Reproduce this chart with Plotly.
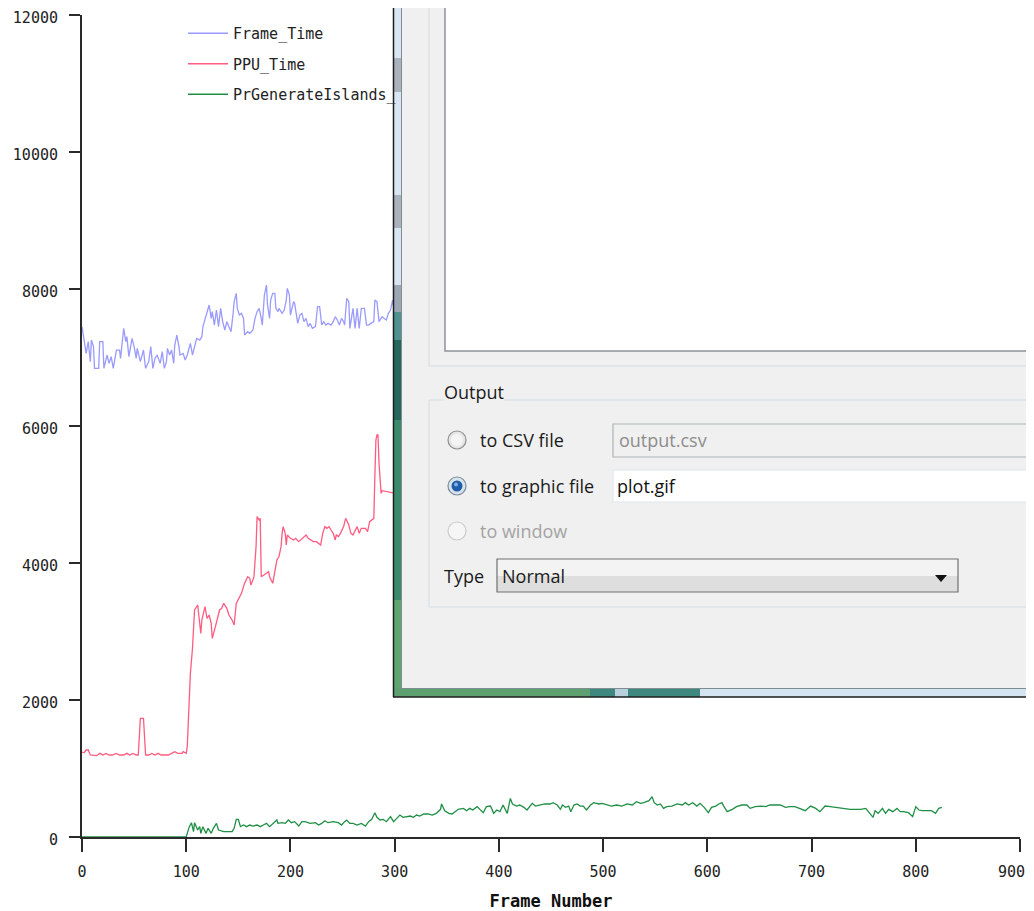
import plotly.graph_objects as go

# ---------------- data ----------------
ft_frames = [0,1,4,6,8,9,11,12,16,17,20,21,24,26,28,30,33,36,37,40,42,43,45,48,50,52,53,56,59,61,
             64,66,68,70,72,75,77,79,81,82,84,86,88,89,91,93,94,97,99,101,104,106,108,110,113,115,116,119,120,122,
             124,125,127,129,131,133,135,137,139,141,143,145,146,148,149,151,153,155,156,159,161,164,166,168,170,172,173,175,177,178,
             180,181,183,185,186,188,189,192,194,196,197,199,200,203,204,207,209,211,213,215,217,219,221,224,226,228,230,232,234,236,
             239,241,243,245,247,249,251,252,254,256,257,260,262,264,266,268,271,273,275,277,280,281,283,285,288,290,292,294,296,298,
             299,302]
ft_values = [7450,7352,7060,7231,6939,7255,7158,6842,6842,7231,7231,6842,7036,6914,7012,6842,7109,7109,6987,7425,
             7231,7304,7012,7279,7158,6987,7133,6939,7109,6842,6939,7158,6842,6987,7036,6914,7085,6842,6939,7133,
             7036,7109,6914,7182,7328,7158,7036,7060,6963,7036,7206,7036,7182,7279,7255,7304,7450,7596,7669,7766,
             7571,7669,7474,7693,7450,7717,7523,7401,7523,7450,7377,7644,7815,7937,7717,7620,7644,7571,7328,7377,
             7352,7401,7571,7669,7717,7571,7474,7912,8058,7766,7571,7839,7937,7937,7717,7669,7717,7644,7693,7839,
             8010,7912,7620,7815,7791,7498,7620,7644,7523,7571,7450,7498,7425,7450,7742,7742,7474,7523,7474,7498,
             7474,7523,7596,7547,7474,7571,7523,7474,7864,7815,7425,7717,7425,7717,7425,7717,7717,7474,7474,7498,
             7523,7839,7815,7523,7596,7571,7547,7644,7693,7839,7742,7800]

ppu_frames = [0,2,4,6,8,11,14,17,20,23,26,29,33,36,40,43,46,49,52,54,
              55,56,59,60,61,64,67,70,73,76,80,83,86,89,92,96,97,100,101,102,
              103,104,106,108,111,112,114,115,117,118,120,122,124,125,128,130,132,134,136,139,
              141,144,146,148,150,153,156,159,161,162,164,165,167,168,170,171,172,174,177,179,
              180,183,185,187,189,191,192,193,195,196,197,200,203,205,208,210,212,215,217,219,
              222,225,227,229,231,233,235,237,239,241,243,244,246,248,251,253,256,258,260,262,
              264,266,268,272,274,276,278,280,281,282,283,284,285,287,288,292,296,299,303]
ppu_values = [1240,1230,1270,1270,1197,1187,1187,1221,1197,1221,1197,1197,1221,1197,1197,1221,1197,1221,1197,1197,
              1465,1732,1732,1465,1197,1197,1221,1197,1221,1197,1197,1197,1221,1246,1221,1221,1246,1221,1318,1659,
              1927,2389,2754,3314,3387,3265,2973,3168,3314,3363,3192,3241,3119,2900,3071,3217,3314,3338,3411,3338,
              3241,3168,3095,3411,3470,3557,3703,3800,3776,3679,3752,3800,4239,4677,4628,4652,3800,3825,3849,3873,
              3800,3703,3873,4044,4093,4239,4433,4531,4433,4263,4409,4360,4336,4360,4312,4336,4360,4409,4360,4336,
              4312,4312,4288,4263,4433,4531,4506,4531,4482,4433,4336,4409,4385,4433,4531,4652,4555,4433,4409,4482,
              4531,4433,4506,4506,4458,4604,4628,4652,5261,5796,5869,5869,5455,5017,5056,5041,5027,5017,5010]

pgi_frames = [0,100,101,103,105,107,108,111,113,114,116,119,121,124,126,129,131,133,136,139,
              144,146,148,150,152,155,158,161,164,168,171,174,177,180,184,187,188,192,195,198,
              201,204,208,211,214,219,224,227,230,233,236,241,246,249,252,254,257,260,264,268,
              272,275,278,281,283,286,289,292,296,299,302,305,308,312,315,318,321,324,328,332,
              336,340,344,345,348,352,355,358,361,366,369,372,375,379,382,385,388,392,395,398,
              401,404,408,411,413,417,420,424,427,432,435,440,444,449,452,456,459,461,464,467,
              469,472,475,478,481,484,488,491,496,499,504,508,513,518,523,528,532,536,539,544,
              547,549,552,555,558,561,566,571,576,579,582,586,590,593,597,601,604,608,611,614,
              616,619,624,628,633,638,641,646,651,656,660,665,670,675,679,684,689,694,699,704,
              708,713,718,723,728,732,737,742,747,752,756,759,761,764,768,771,774,778,782,785,
              788,793,797,800,803,806,811,815,819,822,825]
pgi_values = [0,0,53,151,209,78,209,102,151,53,151,53,126,53,126,199,102,92,78,78,
              78,126,258,258,151,175,151,175,160,175,151,175,199,151,199,248,199,209,199,248,
              209,224,160,224,224,199,209,175,199,238,209,224,209,175,224,248,199,199,175,199,
              160,224,258,355,287,248,258,224,297,224,272,321,287,297,306,287,321,306,336,336,
              321,345,404,482,384,345,336,370,404,418,384,418,394,443,404,355,443,452,345,394,
              370,467,345,564,482,452,467,433,394,491,452,467,482,482,501,467,404,467,433,452,
              370,467,482,452,452,394,467,501,482,491,467,452,467,452,482,467,516,491,501,530,
              589,501,467,482,418,443,452,482,467,501,467,501,452,491,433,355,433,452,482,501,
              443,370,404,443,467,467,418,443,452,443,467,467,467,433,443,443,418,384,452,418,
              370,452,443,433,418,418,404,404,404,418,345,287,384,345,418,345,404,370,418,370,
              370,355,297,443,394,384,384,384,345,418,433]

series_names = ["Frame_Time", "PPU_Time", "PrGenerateIslands_"]
series_colors = ["#9a9aff", "#ff5c80", "#1f8f45"]
x_ticks = [0, 100, 200, 300, 400, 500, 600, 700, 800, 900]
# the last label ("900") sits at the page edge; it is drawn separately so it stays visible
x_ticktext = ["0", "100", "200", "300", "400", "500", "600", "700", "800", ""]
x_last_label = "900"
y_ticks = [0, 2000, 4000, 6000, 8000, 10000, 12000]
y_ticktext = ["0", "2000", "4000", "6000", "8000", "10000", "12000"]

# ---------------- figure ----------------
# the page puts the figure 8px from the top-left corner (default body margin)
OFF = 8
W, H = 1034 - 2 * OFF, 911 - OFF
ML, MT = 82 - OFF, 15 - OFF
MR = OFF + W - 1020
MB = OFF + H - 837
PW = W - ML - MR
PH = H - MT - MB

fig = go.Figure()
for fr, vals, nm, col in zip([ft_frames, ppu_frames, pgi_frames],
                             [ft_values, ppu_values, pgi_values],
                             series_names, series_colors):
    fig.add_trace(go.Scatter(x=fr, y=vals, mode="lines", name=nm, legendgroup=nm,
                             line=dict(color=col, width=1.3)))

# page pixel -> paper coordinates
def fx(px):
    return (px - OFF - ML) / PW
def fy(py):
    return (OFF + H - MB - py) / PH

mono = "DejaVu Sans Mono"
fig.update_layout(
    width=W, height=H, margin=dict(l=ML, r=MR, t=MT, b=MB, autoexpand=False),
    paper_bgcolor="white", plot_bgcolor="white",
    font=dict(family=mono, size=15, color="#222222"),
    showlegend=True,
    legend=dict(x=fx(183), y=fy(17),
                xanchor="left", yanchor="top", bgcolor="rgba(0,0,0,0)",
                font=dict(family=mono, size=15, color="#222222"),
                tracegroupgap=8, traceorder="grouped", itemwidth=40),
    xaxis=dict(range=[0, 900], tickvals=x_ticks, ticktext=x_ticktext, showgrid=False, zeroline=False,
               automargin=False, ticklabeloverflow="allow",
               showline=True, linecolor="#2a2a2a", linewidth=2,
               ticks="outside", ticklen=13, tickwidth=2, tickcolor="#2a2a2a",
               ticklabelstandoff=7,
               title=dict(text="<b>Frame Number</b>", font=dict(family=mono, size=17, color="#111"), standoff=16)),
    yaxis=dict(range=[0, 12000], tickvals=y_ticks, ticktext=y_ticktext, showgrid=False, zeroline=False,
               automargin=False, ticklabeloverflow="allow",
               showline=True, linecolor="#2a2a2a", linewidth=2,
               ticks="outside", ticklen=11, tickwidth=2, tickcolor="#2a2a2a",
               ticklabelstandoff=8, ticklabelshift=3),
)
fig.add_annotation(xref="paper", yref="paper", x=fx(1026), y=fy(872), text=x_last_label,
                   showarrow=False, xanchor="right", yanchor="middle", borderpad=0,
                   font=dict(family=mono, size=15, color="#222222"))

# ---------------- overlapping dialog window (decoration) ----------------
def rect(x0, y0, x1, y1, fill=None, line=None, lw=1):
    fig.add_shape(type="rect", xref="paper", yref="paper",
                  x0=fx(x0), x1=fx(x1), y0=fy(y1), y1=fy(y0),
                  fillcolor=fill if fill else "rgba(0,0,0,0)",
                  line=dict(color=line, width=lw) if line else dict(width=0),
                  layer="above")

def seg(x0, y0, x1, y1, color, lw=1):
    fig.add_shape(type="line", xref="paper", yref="paper",
                  x0=fx(x0), x1=fx(x1), y0=fy(y0), y1=fy(y1),
                  line=dict(color=color, width=lw), layer="above")

def circ(cx, cy, r, fill, line=None, lw=1):
    fig.add_shape(type="circle", xref="paper", yref="paper",
                  x0=fx(cx - r), x1=fx(cx + r), y0=fy(cy + r), y1=fy(cy - r),
                  fillcolor=fill, line=dict(color=line, width=lw) if line else dict(width=0),
                  layer="above")

def label(x, y, text, color="#1a1a1a", size=18, bg=None):
    fig.add_annotation(xref="paper", yref="paper", x=fx(x), y=fy(y), text=text,
                       showarrow=False, xanchor="left", yanchor="middle",
                       font=dict(family="Open Sans", size=size, color=color),
                       bgcolor=bg if bg else "rgba(0,0,0,0)", borderpad=0)

# panel
rect(402, -20, 1050, 688, fill="#f0f0f0")
# left frame strip with glass colouring
rect(393, -20, 402, 697, fill="#d8e6f4")
rect(393, 58, 402, 92, fill="#aab3bd")
rect(393, 195, 402, 228, fill="#aab3bd")
rect(393, 285, 402, 312, fill="#9ba7b2")
rect(393, 312, 402, 340, fill="#4f9290")
rect(393, 340, 402, 420, fill="#25675c")
rect(393, 420, 402, 600, fill="#3b8a6b")
rect(393, 600, 402, 697, fill="#5ea56f")
# bottom frame strip
rect(393, 688, 590, 697, fill="#5fa070")
rect(590, 688, 615, 697, fill="#3f8880")
rect(615, 688, 628, 697, fill="#b8d0dc")
rect(628, 688, 700, 697, fill="#3f8880")
rect(700, 688, 1050, 697, fill="#d4e4f0")
seg(393.5, -20, 393.5, 697, "#1e1e1e", 1.5)
seg(393, 697, 1050, 697, "#1e1e1e", 1.5)
seg(401.5, -20, 401.5, 688.5, "#7d8d92", 1)
seg(401.5, 688.5, 1050, 688.5, "#7d8d92", 1)

# upper group box with white list area
rect(429, -20, 1060, 366, line="#d3dce3", lw=1)
rect(445, -20, 1060, 351, fill="#ffffff", line="#8d9399", lw=1.5)

# Output group box
rect(429, 400, 1060, 607, line="#d3dce3", lw=1)
label(443, 392, "Output", bg="#f0f0f0")

# radio buttons
circ(457, 440, 9, "#e6e6e6", "#8e8f8f", 1.2)
circ(457, 440, 6, "#f4f4f4")
circ(457, 486, 9, "#d9e3ec", "#7c8c9c", 1.2)
circ(457, 486, 5.5, "#1f5fa8")
circ(456, 484.5, 2, "#7fb0e8")
circ(457, 531, 9, "#f6f6f6", "#cbcbcb", 1.2)
label(479, 440, "to CSV file")
label(479, 486, "to graphic file")
label(479, 531, "to window", color="#a3a3a3")

# text fields
rect(613, 424, 1060, 457, fill="#f0f0f0", line="#aeb3b6", lw=1.2)
label(618, 440, "output.csv", color="#8d8d8d")
rect(613, 470, 1060, 502, fill="#ffffff", line="#e1e7ed", lw=1.2)
label(616, 486, "plot.gif", color="#111111")

# type combo box
label(443, 576, "Type")
rect(497, 559, 958, 576, fill="#f3f3f3")
rect(497, 576, 958, 592, fill="#dedede")
rect(497, 559, 958, 592, line="#707070", lw=1.2)
label(501, 576, "Normal")
fig.add_shape(type="path", xref="paper", yref="paper", layer="above",
              path="M {} {} L {} {} L {} {} Z".format(fx(935), fy(575), fx(947), fy(575), fx(941), fy(582)),
              fillcolor="#111111", line=dict(width=0))

fig.write_html("out.html")
